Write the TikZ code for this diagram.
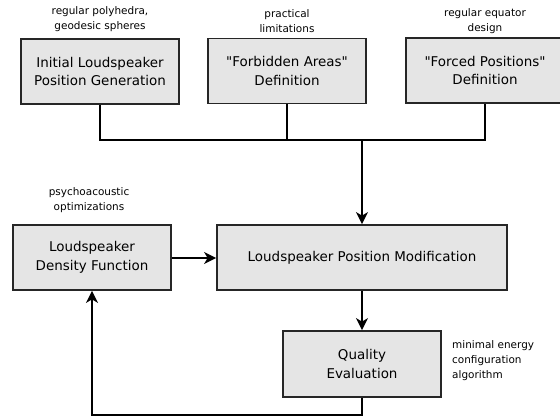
\documentclass[tikz,border=0pt]{standalone}
\usepackage{fontspec}
\setmainfont{DejaVu Sans}[Ligatures=TeXOff]
\usetikzlibrary{arrows.meta}
\begin{document}
\begin{tikzpicture}[x=1bp,y=-1bp,
  box/.style={draw=black!85,line width=1.8bp,fill=black!10,inner sep=0pt,align=center,font=\fontsize{13.5}{19}\selectfont},
  note/.style={align=center,font=\fontsize{10.5}{15}\selectfont,inner sep=0pt},
  conn/.style={line width=1.5bp,draw=black},
  arr/.style={conn,-{Stealth[length=12bp,width=12bp,inset=3.5bp]}}]
\useasboundingbox (0,0) rectangle (560,417);
\node[box,minimum width=158bp,minimum height=65bp] (init) at (100,71.5) {Initial Loudspeaker\\Position Generation};
\node[box,minimum width=158bp,minimum height=65bp] (forb) at (287,71) {"Forbidden Areas"\\Definition};
\node[box,minimum width=158bp,minimum height=65bp] (forc) at (485,70.5) {"Forced Positions"\\Definition};
\node[box,minimum width=290bp,minimum height=65bp] (mod) at (362,257.5) {Loudspeaker Position Modification};
\node[box,minimum width=158bp,minimum height=65bp] (dens) at (92,257.5) {Loudspeaker\\Density Function};
\node[box,minimum width=158bp,minimum height=66bp] (qual) at (362,364) {Quality\\Evaluation};
\node[note] (n1) at (100,19.5) {regular polyhedra,\\geodesic spheres};
\node[note] (n2) at (287,21) {practical\\limitations};
\node[note] (n3) at (485,21) {regular equator\\design};
\node[note] (n4) at (89,200.5) {psychoacoustic\\optimizations};
\node[note,align=left,anchor=west] (n5) at (452,361) {minimal energy\\configuration\\algorithm};
\coordinate (j) at (362,140);
\draw[conn] (init.south) |- (j);
\draw[conn] (forb.south) |- (j);
\draw[conn] (forc.south) |- (j);
\draw[arr] (j) -- (mod.north);
\draw[arr] (dens.east |- 0,258) -- (mod.west |- 0,258);
\draw[arr] (mod.south) -- (qual.north);
\coordinate (b) at (362,415);
\draw[arr] (qual.south) -- (b) -| (dens.south);
\end{tikzpicture}
\end{document}
